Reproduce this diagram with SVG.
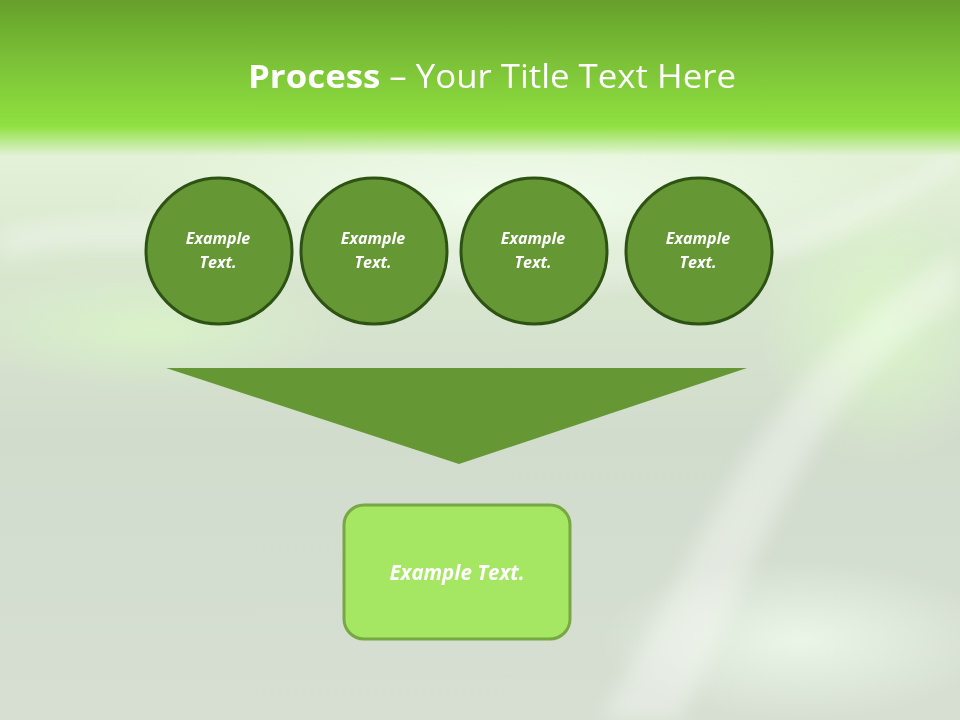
<svg xmlns="http://www.w3.org/2000/svg" width="960" height="720" viewBox="0 0 960 720">
<defs>
<linearGradient id="band" x1="0" y1="0" x2="0" y2="1">
<stop offset="0" stop-color="#66a02b"/>
<stop offset="0.5" stop-color="#7cc237"/>
<stop offset="1" stop-color="#8fe040"/>
</linearGradient>
<linearGradient id="body" x1="0" y1="0" x2="0" y2="1">
<stop offset="0" stop-color="#e4f7d2"/>
<stop offset="0.12" stop-color="#eaf8de"/>
<stop offset="0.35" stop-color="#d9e8cf"/>
<stop offset="0.6" stop-color="#d2dccd"/>
<stop offset="1" stop-color="#d6dfd2"/>
</linearGradient>
<linearGradient id="fade" x1="0" y1="0" x2="0" y2="1">
<stop offset="0" stop-color="#8fe040"/>
<stop offset="1" stop-color="#8fe040" stop-opacity="0"/>
</linearGradient>
<radialGradient id="glow1" cx="0.5" cy="0.5" r="0.5">
<stop offset="0" stop-color="#f4fff0" stop-opacity="0.9"/>
<stop offset="1" stop-color="#f4fff0" stop-opacity="0"/>
</radialGradient>
<radialGradient id="glow2" cx="0.5" cy="0.5" r="0.5">
<stop offset="0" stop-color="#dcffc4" stop-opacity="0.9"/>
<stop offset="1" stop-color="#dcffc4" stop-opacity="0"/>
</radialGradient>
<filter id="blur" x="-20%" y="-20%" width="140%" height="140%"><feGaussianBlur stdDeviation="10"/></filter>
<style>
.c{fill:#659834;stroke:#2d5214;stroke-width:3}
.t{font-family:"Open Sans","Liberation Sans",sans-serif;font-style:italic;font-weight:bold;fill:#ffffff;text-anchor:middle}
</style>
</defs>
<rect width="960" height="720" fill="url(#body)"/>
<ellipse cx="520" cy="200" rx="420" ry="80" fill="url(#glow1)"/>
<ellipse cx="150" cy="330" rx="200" ry="60" fill="url(#glow2)" opacity="0.6"/>
<ellipse cx="880" cy="330" rx="120" ry="140" fill="url(#glow2)" opacity="0.7"/>
<ellipse cx="800" cy="640" rx="200" ry="80" fill="url(#glow1)" opacity="0.8"/>
<g filter="url(#blur)">
<path d="M600 720 C700 560 760 360 960 250 L960 300 C800 400 760 560 680 720 Z" fill="#ffffff" opacity="0.35"/>
<path d="M0 230 C200 180 400 300 700 250 C820 230 900 180 960 150 L960 170 C880 210 800 270 700 275 C400 320 200 210 0 260 Z" fill="#ffffff" opacity="0.3"/>
</g>
<rect x="0" y="0" width="960" height="126" fill="url(#band)"/>
<rect x="0" y="126" width="960" height="30" fill="url(#fade)"/>
<g id="title">
<text x="492" y="88" font-family="'Open Sans','Liberation Sans',sans-serif" font-size="33" fill="#ffffff" text-anchor="middle" textLength="488" lengthAdjust="spacingAndGlyphs"><tspan font-weight="bold">Process</tspan> – Your Title Text Here</text>
</g>
<g id="node1"><circle class="c" cx="219" cy="251" r="73"/><text class="t" x="218" y="244" font-size="16">Example</text><text class="t" x="218" y="268" font-size="16">Text.</text></g>
<g id="node2"><circle class="c" cx="374" cy="251" r="73"/><text class="t" x="373" y="244" font-size="16">Example</text><text class="t" x="373" y="268" font-size="16">Text.</text></g>
<g id="node3"><circle class="c" cx="534" cy="251" r="73"/><text class="t" x="533" y="244" font-size="16">Example</text><text class="t" x="533" y="268" font-size="16">Text.</text></g>
<g id="node4"><circle class="c" cx="699" cy="251" r="73"/><text class="t" x="698" y="244" font-size="16">Example</text><text class="t" x="698" y="268" font-size="16">Text.</text></g>
<g id="connectors">
<polygon points="166,368 747,368 459,464" fill="#659834"/>
</g>
<g id="result">
<rect x="344" y="505" width="226" height="134" rx="20" ry="20" fill="#a5e663" stroke="#77a844" stroke-width="3"/>
<text class="t" x="457" y="580" font-size="20.5">Example Text.</text>
</g>
</svg>
